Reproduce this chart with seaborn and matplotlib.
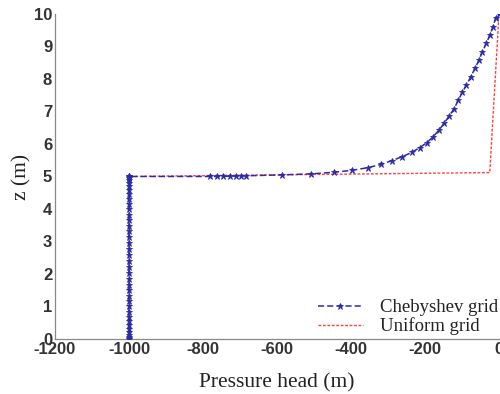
import numpy as np
import pandas as pd
import seaborn as sns
import matplotlib
matplotlib.use("Agg")
import matplotlib.pyplot as plt

# Chebyshev grid: lower layer (constant pressure head) then upper layer curve
cheb_h_lower = [-1000] * 38
cheb_z_lower = [0.0, 0.02, 0.06, 0.12, 0.2, 0.3, 0.42, 0.55, 0.69, 0.84, 1.0, 1.16,
                1.33, 1.5, 1.67, 1.85, 2.03, 2.21, 2.4, 2.58, 2.76, 2.95, 3.13, 3.31,
                3.49, 3.66, 3.83, 4.0, 4.16, 4.31, 4.45, 4.58, 4.7, 4.8, 4.88, 4.94,
                4.98, 5.0]
cheb_h_upper = [-1000, -780, -762, -745, -728, -712, -697, -685, -586, -508, -445,
                -397, -355, -319, -289, -261, -236, -214, -195, -178, -162, -148,
                -135, -121, -110, -99, -88, -76, -65, -54, -45, -34, -25, -16, -9, 0]
cheb_z_upper = [5.0, 5.0, 5.0, 5.0, 5.01, 5.01, 5.01, 5.02, 5.05, 5.08, 5.13,
                5.19, 5.27, 5.37, 5.49, 5.61, 5.74, 5.89, 6.04, 6.22, 6.43, 6.64,
                6.86, 7.09, 7.35, 7.59, 7.82, 8.07, 8.33, 8.58, 8.84, 9.10, 9.35,
                9.61, 9.88, 10.0]

# Uniform grid
unif_h = [-1000, -1000, -25, 0]
unif_z = [0.0, 5.0, 5.12, 10.0]

cheb = pd.DataFrame({"h": cheb_h_lower + cheb_h_upper,
                     "z": cheb_z_lower + cheb_z_upper})
unif = pd.DataFrame({"h": unif_h, "z": unif_z})

sns.set_style("white")
plt.rcParams["font.family"] = ["Liberation Sans", "DejaVu Sans"]
plt.rcParams["axes.unicode_minus"] = False

fig = plt.figure(figsize=(5.0, 3.94), dpi=100)
ax = fig.add_axes([0.11, 0.1396, 0.888, 0.825])

blue = "#2b2ba6"
sns.lineplot(data=cheb, x="h", y="z", ax=ax, sort=False, estimator=None,
             color=blue, linestyle=(0, (4, 2)), linewidth=1.1,
             marker="*", markersize=4.5, markeredgewidth=0.6,
             markeredgecolor=blue, markerfacecolor=blue,
             label="Chebyshev grid", zorder=3)
sns.lineplot(data=unif, x="h", y="z", ax=ax, sort=False, estimator=None,
             color="#ff4040", linestyle=(0, (2, 1.2)), linewidth=1.0,
             label="Uniform grid", zorder=2)

ax.set_xlim(-1200, 0)
ax.set_ylim(0, 10)
ax.set_xticks(np.arange(-1200, 1, 200))
ax.set_yticks(np.arange(0, 11, 1))
ax.tick_params(direction="in", length=3, width=0.8, colors="#555555",
               labelcolor="#333333", labelsize=12, pad=2)
for lab in ax.get_xticklabels() + ax.get_yticklabels():
    lab.set_fontweight("bold")
for side in ["top", "right"]:
    ax.spines[side].set_visible(False)
for side in ["left", "bottom"]:
    ax.spines[side].set_color("#888888")
    ax.spines[side].set_linewidth(0.9)

ax.set_xlabel("Pressure head (m)", family=["Liberation Serif", "DejaVu Serif"],
              fontsize=15.5, color="#222222", labelpad=12)
ax.set_ylabel("z (m)", family=["Liberation Serif", "DejaVu Serif"],
              fontsize=15.5, color="#222222", labelpad=2)

leg = ax.legend(loc="lower right", frameon=False, handlelength=2.4,
                handletextpad=0.9, labelspacing=0.05, numpoints=1,
                prop={"family": ["Liberation Serif", "DejaVu Serif"], "size": 13.5},
                bbox_to_anchor=(1.035, -0.04))
for t in leg.get_texts():
    t.set_color("#222222")

fig.savefig("out.png", dpi=100)
